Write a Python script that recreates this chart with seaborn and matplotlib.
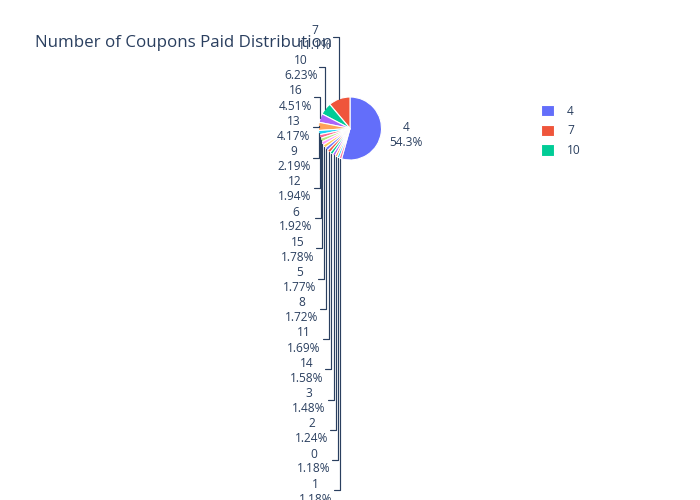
import numpy as np
import matplotlib.pyplot as plt
import seaborn as sns

coupons = ['4', '7', '10', '16', '13', '9', '12', '6', '15', '5', '8', '11', '14', '3', '2', '0', '1']
share = [54.3, 11.1, 6.23, 4.51, 4.17, 2.19, 1.94, 1.92, 1.78, 1.77, 1.72, 1.69, 1.58, 1.48, 1.24, 1.18, 1.18]
plotly_colors = ['#636EFA', '#EF553B', '#00CC96', '#AB63FA', '#FFA15A',
                 '#19D3F3', '#FF6692', '#B6E880', '#FF97FF', '#FECB52']

sns.set_theme(style='white')
plt.rcParams['font.family'] = ['Open Sans', 'DejaVu Sans']
text_color = '#2a3f5f'
palette = sns.color_palette(plotly_colors, n_colors=len(share))

fig = plt.figure(figsize=(7, 5), dpi=100)
ax = fig.add_axes([0, 0, 1, 1])

# pie in pixel coordinates (y up)
cx, cy, r = 350, 371.5, 31.5
total = sum(share)
start = 90 - 360 * share[0] / total
wedges, _ = ax.pie(share, colors=palette, startangle=start, counterclock=True,
                   center=(cx, cy), radius=r, frame=True,
                   wedgeprops=dict(edgecolor='white', linewidth=0.8))
ax.set_xlim(0, 700)
ax.set_ylim(0, 500)
ax.set_aspect('equal')
ax.axis('off')

# outside labels, stacked on the left like plotly does
cum = np.cumsum([0] + share[:-1])
for i, lab in enumerate(coupons):
    theta = np.deg2rad(start + 360 * (cum[i] + share[i] / 2) / total)
    ex = cx + r * np.cos(theta)
    ey = cy + r * np.sin(theta)
    txt = f'{lab}\n{share[i] / total * 100:.3g}%'
    if i == 0:
        ax.text(ex + 8, ey - 2, txt, ha='left', va='center', multialignment='center',
                fontsize=8.6, color=text_color)
    else:
        ly = 500 - (36.5 + 30.25 * (i - 1))
        ax.plot([ex, ex, ex - 6], [ey, ly, ly], color=text_color, lw=0.85)
        ax.text(ex - 8, ly - 1.5, txt, ha='right', va='center', multialignment='center',
                fontsize=8.6, color=text_color)

ax.legend(wedges[:3], coupons[:3], loc='upper left', bbox_to_anchor=(530 / 700, 1 - 94 / 500),
          frameon=False, fontsize=8.6, handlelength=1.1, handleheight=1.1,
          labelspacing=0.55, handletextpad=1.1, labelcolor=text_color)

fig.text(35 / 700, 1 - 43 / 500, 'Number of Coupons Paid Distribution',
         fontsize=12.2, color=text_color, ha='left', va='center')

fig.savefig('out.png', dpi=100)
